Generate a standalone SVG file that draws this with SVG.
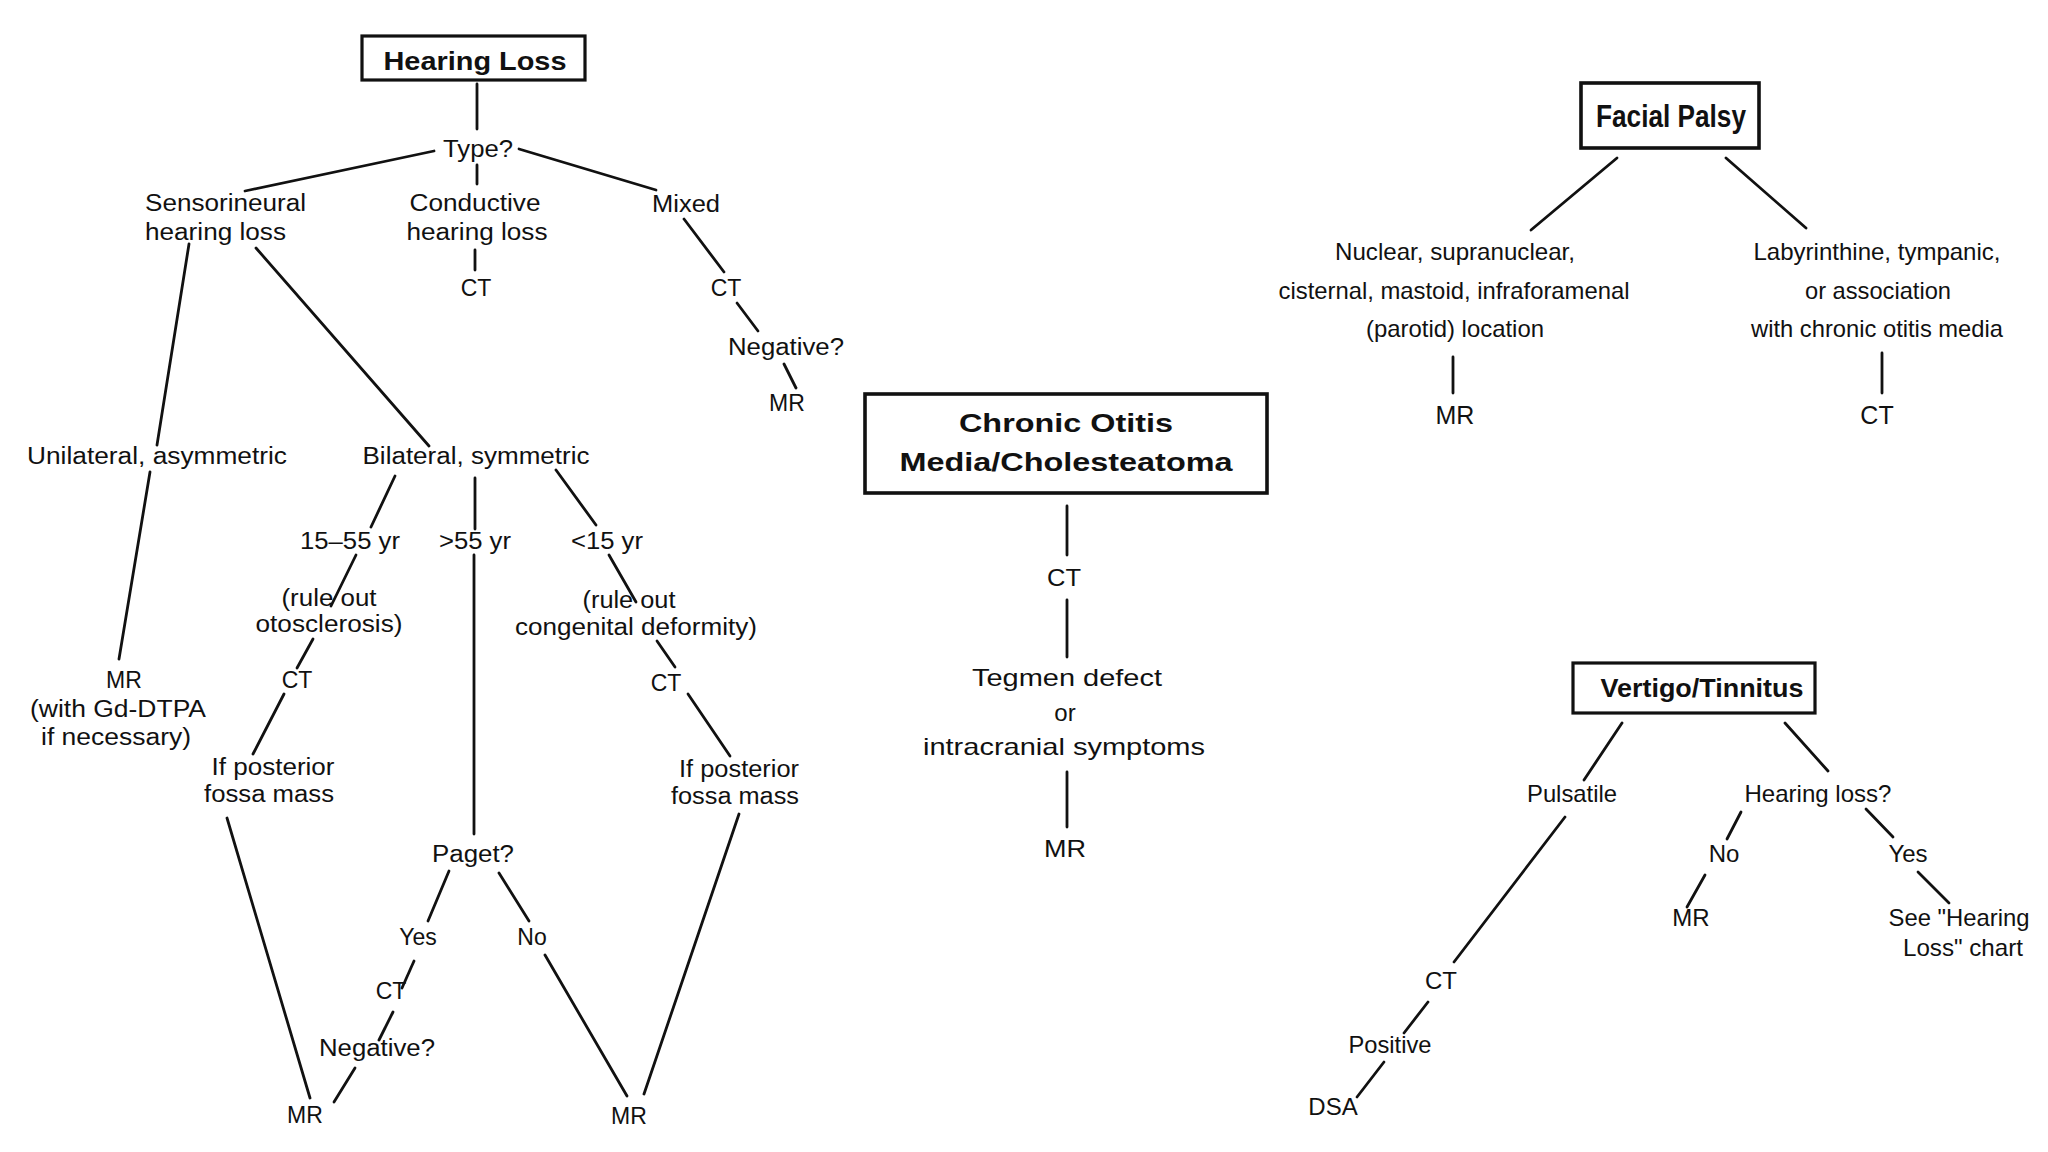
<svg xmlns="http://www.w3.org/2000/svg" width="2048" height="1152" viewBox="0 0 2048 1152">
<style>
text{font-family:"Liberation Sans",Arial,sans-serif;fill:#111;text-anchor:middle}
.t{font-size:23px}
.m{font-size:24px}
.b{font-size:25px;font-weight:bold}
.box{fill:none;stroke:#111;stroke-width:3.2}
#connectors line{stroke:#111;stroke-width:2.8;stroke-linecap:round}
</style>
<rect width="2048" height="1152" fill="#fff"/>

<g id="connectors">
<line x1="477" y1="84" x2="477" y2="129"/>
<line x1="434" y1="151" x2="245" y2="191"/>
<line x1="477" y1="165" x2="477" y2="184"/>
<line x1="519" y1="149" x2="656" y2="190"/>
<line x1="475" y1="250" x2="475" y2="270"/>
<line x1="684" y1="219" x2="724" y2="272"/>
<line x1="737" y1="303" x2="758" y2="331"/>
<line x1="784" y1="364" x2="796" y2="388"/>
<line x1="189" y1="244" x2="157" y2="445"/>
<line x1="150" y1="472" x2="119" y2="659"/>
<line x1="256" y1="248" x2="429" y2="446"/>
<line x1="395" y1="476" x2="371" y2="527"/>
<line x1="356" y1="555" x2="331" y2="606"/>
<line x1="313" y1="639" x2="297" y2="668"/>
<line x1="284" y1="694" x2="253" y2="754"/>
<line x1="227" y1="818" x2="310" y2="1098"/>
<line x1="475" y1="478" x2="475" y2="529"/>
<line x1="474" y1="555" x2="474" y2="834"/>
<line x1="556" y1="470" x2="596" y2="525"/>
<line x1="609" y1="555" x2="636" y2="602"/>
<line x1="657" y1="641" x2="675" y2="667"/>
<line x1="688" y1="694" x2="730" y2="756"/>
<line x1="739" y1="814" x2="644" y2="1094"/>
<line x1="449" y1="871" x2="428" y2="921"/>
<line x1="499" y1="873" x2="529" y2="921"/>
<line x1="414" y1="961" x2="402" y2="988"/>
<line x1="393" y1="1012" x2="379" y2="1040"/>
<line x1="355" y1="1068" x2="334" y2="1102"/>
<line x1="545" y1="955" x2="627" y2="1096"/>
<line x1="1067" y1="506" x2="1067" y2="555"/>
<line x1="1067" y1="600" x2="1067" y2="657"/>
<line x1="1067" y1="772" x2="1067" y2="827"/>
<line x1="1617" y1="158" x2="1531" y2="230"/>
<line x1="1726" y1="158" x2="1806" y2="228"/>
<line x1="1453" y1="357" x2="1453" y2="393"/>
<line x1="1882" y1="353" x2="1882" y2="393"/>
<line x1="1622" y1="723" x2="1584" y2="780"/>
<line x1="1785" y1="723" x2="1828" y2="771"/>
<line x1="1565" y1="817" x2="1454" y2="962"/>
<line x1="1428" y1="1002" x2="1404" y2="1033"/>
<line x1="1384" y1="1062" x2="1357" y2="1097"/>
<line x1="1741" y1="812" x2="1727" y2="839"/>
<line x1="1705" y1="875" x2="1687" y2="907"/>
<line x1="1866" y1="809" x2="1893" y2="837"/>
<line x1="1918" y1="872" x2="1949" y2="903"/>
</g>

<!-- Hearing Loss chart -->
<g id="hearing-loss">
<rect class="box" x="362" y="36" width="223" height="44"/>
<text class="b" x="475" y="70" textLength="183" lengthAdjust="spacingAndGlyphs">Hearing Loss</text>
</g>
<g id="type"><text class="t" x="478" y="157" textLength="70" lengthAdjust="spacingAndGlyphs">Type?</text></g>
<g id="sensorineural">
<text class="t" x="145" y="211" style="text-anchor:start" textLength="161" lengthAdjust="spacingAndGlyphs">Sensorineural</text>
<text class="t" x="145" y="240" style="text-anchor:start" textLength="141" lengthAdjust="spacingAndGlyphs">hearing loss</text>
</g>
<g id="conductive">
<text class="t" x="475" y="211" textLength="131" lengthAdjust="spacingAndGlyphs">Conductive</text>
<text class="t" x="477" y="240" textLength="141" lengthAdjust="spacingAndGlyphs">hearing loss</text>
</g>
<g id="mixed"><text class="t" x="686" y="212" textLength="68" lengthAdjust="spacingAndGlyphs">Mixed</text></g>
<g id="ct-conductive"><text class="t" x="476" y="296">CT</text></g>
<g id="ct-mixed"><text class="t" x="726" y="296">CT</text></g>
<g id="negative-mixed"><text class="t" x="786" y="355" textLength="116" lengthAdjust="spacingAndGlyphs">Negative?</text></g>
<g id="mr-mixed"><text class="t" x="787" y="411">MR</text></g>
<g id="unilateral"><text class="t" x="157" y="464" textLength="260" lengthAdjust="spacingAndGlyphs">Unilateral, asymmetric</text></g>
<g id="bilateral"><text class="t" x="476" y="464" textLength="227" lengthAdjust="spacingAndGlyphs">Bilateral, symmetric</text></g>
<g id="age-15-55"><text class="t" x="350" y="549" textLength="100" lengthAdjust="spacingAndGlyphs">15–55 yr</text></g>
<g id="age-gt55"><text class="t" x="475" y="549" textLength="72" lengthAdjust="spacingAndGlyphs">&gt;55 yr</text></g>
<g id="age-lt15"><text class="t" x="607" y="549" textLength="72" lengthAdjust="spacingAndGlyphs">&lt;15 yr</text></g>
<g id="otosclerosis">
<text class="t" x="329" y="606" textLength="95" lengthAdjust="spacingAndGlyphs">(rule out</text>
<text class="t" x="329" y="632" textLength="147" lengthAdjust="spacingAndGlyphs">otosclerosis)</text>
</g>
<g id="ct-oto"><text class="t" x="297" y="688">CT</text></g>
<g id="mr-gd">
<text class="t" x="124" y="688">MR</text>
<text class="t" x="118" y="717" textLength="176" lengthAdjust="spacingAndGlyphs">(with Gd-DTPA</text>
<text class="t" x="116" y="745" textLength="150" lengthAdjust="spacingAndGlyphs">if necessary)</text>
</g>
<g id="posterior-left">
<text class="t" x="273" y="775" textLength="123" lengthAdjust="spacingAndGlyphs">If posterior</text>
<text class="t" x="269" y="802" textLength="130" lengthAdjust="spacingAndGlyphs">fossa mass</text>
</g>
<g id="paget"><text class="t" x="473" y="862" textLength="82" lengthAdjust="spacingAndGlyphs">Paget?</text></g>
<g id="paget-yes"><text class="t" x="418" y="945">Yes</text></g>
<g id="paget-no"><text class="t" x="532" y="945">No</text></g>
<g id="ct-paget"><text class="t" x="391" y="999">CT</text></g>
<g id="negative-paget"><text class="t" x="377" y="1056" textLength="116" lengthAdjust="spacingAndGlyphs">Negative?</text></g>
<g id="mr-bottom-left"><text class="t" x="305" y="1123">MR</text></g>
<g id="congenital">
<text class="t" x="629" y="608" textLength="93" lengthAdjust="spacingAndGlyphs">(rule out</text>
<text class="t" x="636" y="635" textLength="242" lengthAdjust="spacingAndGlyphs">congenital deformity)</text>
</g>
<g id="ct-congenital"><text class="t" x="666" y="691">CT</text></g>
<g id="posterior-right">
<text class="t" x="739" y="777" textLength="120" lengthAdjust="spacingAndGlyphs">If posterior</text>
<text class="t" x="735" y="804" textLength="128" lengthAdjust="spacingAndGlyphs">fossa mass</text>
</g>
<g id="mr-bottom-right"><text class="t" x="629" y="1124">MR</text></g>

<!-- Chronic Otitis Media -->
<g id="chronic-otitis">
<rect class="box" x="865" y="394" width="402" height="99" style="stroke-width:3.6"/>
<text class="b" x="1066" y="432" textLength="214" lengthAdjust="spacingAndGlyphs">Chronic Otitis</text>
<text class="b" x="1066" y="471" textLength="333" lengthAdjust="spacingAndGlyphs">Media/Cholesteatoma</text>
</g>
<g id="ct-chronic"><text class="m" x="1064" y="586" textLength="34" lengthAdjust="spacingAndGlyphs">CT</text></g>
<g id="tegmen">
<text class="m" x="1067" y="686" textLength="190" lengthAdjust="spacingAndGlyphs">Tegmen defect</text>
<text class="m" x="1065" y="721">or</text>
<text class="m" x="1064" y="755" textLength="282" lengthAdjust="spacingAndGlyphs">intracranial symptoms</text>
</g>
<g id="mr-chronic"><text class="m" x="1065" y="857" textLength="42" lengthAdjust="spacingAndGlyphs">MR</text></g>

<!-- Facial Palsy -->
<g id="facial-palsy">
<rect class="box" x="1581" y="83" width="178" height="65" style="stroke-width:3.6"/>
<text x="1671" y="127" style="font-size:31px;font-weight:bold" textLength="150" lengthAdjust="spacingAndGlyphs">Facial Palsy</text>
</g>
<g id="nuclear">
<text class="m" x="1455" y="260" textLength="240" lengthAdjust="spacingAndGlyphs">Nuclear, supranuclear,</text>
<text class="m" x="1454" y="299" textLength="351" lengthAdjust="spacingAndGlyphs">cisternal, mastoid, infraforamenal</text>
<text class="m" x="1455" y="337" textLength="178" lengthAdjust="spacingAndGlyphs">(parotid) location</text>
</g>
<g id="mr-facial"><text class="m" x="1455" y="424" style="font-size:25px">MR</text></g>
<g id="labyrinthine">
<text class="m" x="1877" y="260" textLength="247" lengthAdjust="spacingAndGlyphs">Labyrinthine, tympanic,</text>
<text class="m" x="1878" y="299" textLength="146" lengthAdjust="spacingAndGlyphs">or association</text>
<text class="m" x="1877" y="337" textLength="252" lengthAdjust="spacingAndGlyphs">with chronic otitis media</text>
</g>
<g id="ct-facial"><text class="m" x="1877" y="424" style="font-size:25px">CT</text></g>

<!-- Vertigo/Tinnitus -->
<g id="vertigo">
<rect class="box" x="1573" y="663" width="242" height="50"/>
<text x="1702" y="697" style="font-size:26px;font-weight:bold" textLength="203" lengthAdjust="spacingAndGlyphs">Vertigo/Tinnitus</text>
</g>
<g id="pulsatile"><text class="m" x="1572" y="802" textLength="90" lengthAdjust="spacingAndGlyphs">Pulsatile</text></g>
<g id="hearing-loss-q"><text class="m" x="1818" y="802" textLength="147" lengthAdjust="spacingAndGlyphs">Hearing loss?</text></g>
<g id="vt-no"><text class="m" x="1724" y="862">No</text></g>
<g id="vt-yes"><text class="m" x="1908" y="862">Yes</text></g>
<g id="mr-vertigo"><text class="m" x="1691" y="926">MR</text></g>
<g id="see-chart">
<text class="m" x="1959" y="926" textLength="141" lengthAdjust="spacingAndGlyphs">See &quot;Hearing</text>
<text class="m" x="1963" y="956" textLength="120" lengthAdjust="spacingAndGlyphs">Loss&quot; chart</text>
</g>
<g id="ct-vertigo"><text class="m" x="1441" y="989">CT</text></g>
<g id="positive"><text class="m" x="1390" y="1053" textLength="83" lengthAdjust="spacingAndGlyphs">Positive</text></g>
<g id="dsa"><text class="m" x="1333" y="1115">DSA</text></g>
</svg>
